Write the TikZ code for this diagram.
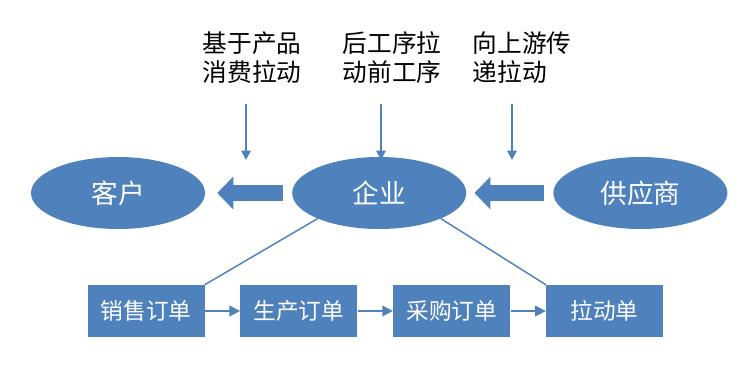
\documentclass[tikz,border=0pt]{standalone}
\usepackage{fontspec}
\setmainfont{Noto Sans CJK SC}
\usetikzlibrary{positioning, arrows.meta, shapes.geometric}
\definecolor{pullblue}{HTML}{4F81BD}

\begin{document}
\begin{tikzpicture}[
    x=0.75pt, y=-0.75pt,
    node distance=26.5pt,
    party/.style={ellipse, fill=pullblue, minimum width=130.5pt,
                  minimum height=54pt, inner sep=0pt, text=white,
                  font=\fontsize{20}{24}\selectfont},
    doc/.style={rectangle, fill=pullblue, minimum width=87.75pt,
                minimum height=39pt, inner sep=0pt, text=white,
                font=\fontsize{17}{20}\selectfont},
    note/.style={align=left, inner sep=0pt,
                 font=\fontsize{18.5}{21.75}\selectfont},
    bigarr/.style={draw=pullblue, line width=12pt,
                   -{Triangle[length=12pt, width=24pt]}},
    downarr/.style={draw=pullblue, line width=1.5pt,
                    -{Triangle[length=7pt, width=7pt]}},
    arr/.style={draw=pullblue, line width=1.1pt,
                -{Triangle[length=8pt, width=8pt]}},
    link/.style={draw=pullblue, line width=1.1pt},
]
\useasboundingbox (0,0) rectangle (745,368);

\node[party] (kehu) at (118,193) {客户};
\node[party, right=65pt of kehu] (qiye) {企业};
\node[party, right=65pt of qiye] (gys) {供应商};

\node[doc] (xsdd) at (146,311) {销售订单};
\node[doc, right=of xsdd] (scdd) {生产订单};
\node[doc, right=of scdd] (cgdd) {采购订单};
\node[doc, right=of cgdd] (ldd) {拉动单};

\node[note] (n1) at (252,58) {基于产品\\消费拉动};
\node[note] (n2) at (392,58) {后工序拉\\动前工序};
\node[note] (n3) at (522,58) {向上游传\\递拉动};

\coordinate (d1s) at (246,104);
\coordinate (d1e) at (246,160);
\coordinate (d2s) at (381,104);
\coordinate (d2e) at (381,160);
\coordinate (d3s) at (512,104);
\coordinate (d3e) at (512,160);

\draw[downarr] (d1s) -- (d1e);
\draw[downarr] (d2s) -- (d2e);
\draw[downarr] (d3s) -- (d3e);

\draw[bigarr] ([xshift=-6.75pt]qiye.west) -- ([xshift=9pt]kehu.east);
\draw[bigarr] ([xshift=-6.75pt]gys.west) -- ([xshift=6pt]qiye.east);

\draw[link] (qiye.south west) -- (xsdd.north east);
\draw[link] (qiye.south east) -- (ldd.north west);

\draw[arr] (xsdd) -- (scdd);
\draw[arr] (scdd) -- (cgdd);
\draw[arr] (cgdd) -- (ldd);
\end{tikzpicture}
\end{document}
